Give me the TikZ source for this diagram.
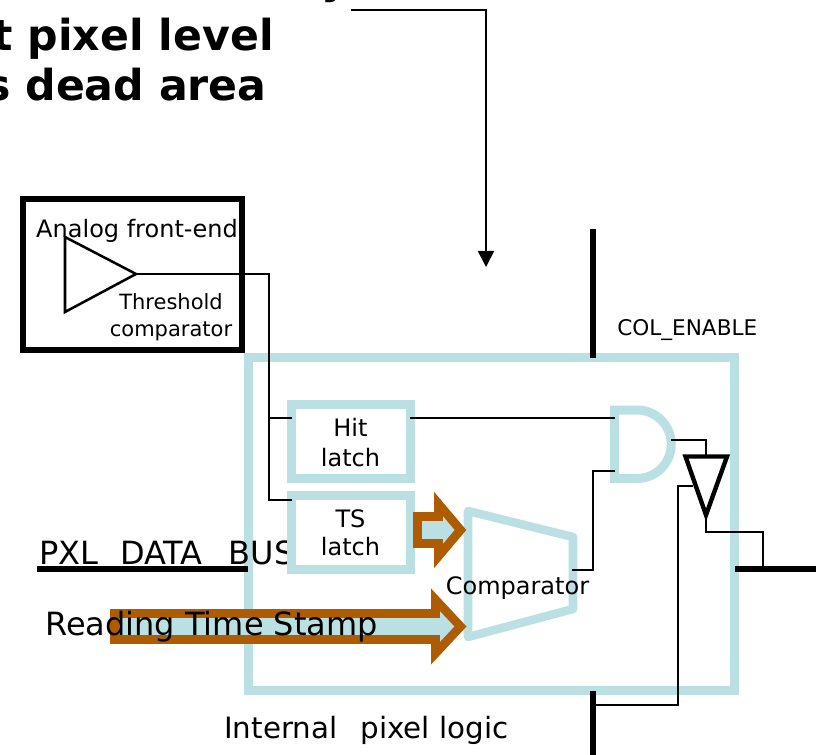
\documentclass[tikz,border=0pt]{standalone}
\usepackage{fontspec}
\setmainfont{DejaVu Sans}
\usetikzlibrary{arrows.meta}
\definecolor{logicblue}{RGB}{186,224,227}
\definecolor{busbrown}{RGB}{175,92,0}
\tikzset{
    wire/.style={line width=1.3pt},
    railbar/.style={line width=3.9pt},
    logicline/.style={draw=logicblue, line width=6.75pt},
    latchbox/.style={draw=logicblue, line width=6.75pt, fill=white, minimum width=89.25pt, minimum height=55.5pt, inner sep=0pt},
    latchtext/.style={inner sep=0pt, align=center},
    busarrow/.style={draw=busbrown, fill=logicblue, line width=6.6pt, miter limit=10},
    titletext/.style={anchor=base east, font=\bfseries\fontsize{32}{32}\selectfont}
}
\begin{document}
\begin{tikzpicture}[x=0.75pt, y=-0.75pt]
    \useasboundingbox (0,0) rectangle (816,755);

    % Title, cut by the page
    \node[anchor=base west, inner sep=0pt, font=\bfseries\fontsize{32}{32}\selectfont] (titletop) at (321,-6) {y};
    \node[titletext, inner sep=0pt] (titleone) at (274,51) {t pixel level};
    \node[titletext, inner sep=0pt] (titletwo) at (267,101) {s dead area};

    % Arrow from the title
    \coordinate (notestart) at (351,10);
    \coordinate (noteend) at (486,267);
    \draw[wire, -{Triangle[width=12pt, length=12pt]}] (notestart) -| (noteend);

    % Internal pixel logic
    \node[logicline, minimum width=364.5pt, minimum height=249.4pt, inner sep=0pt] (pxl) at (491.5,524.25) {};
    \node[anchor=base west, inner sep=0pt, font=\fontsize{22}{26}\selectfont] (pxllabel) at (224,738) {Internal\ \ \kern3.5pt pixel logic};

    % Data bus, its text goes behind the TS latch
    \node[anchor=base west, inner sep=0pt, font=\fontsize{24}{28}\selectfont] (buslabel) at (39,564) {PXL\kern2pt\_\kern2.5pt DATA\kern3.5pt\_\kern4pt BUS};
    \coordinate (busleft) at (37,569);
    \coordinate (busright) at (248,569);
    \draw[line width=4.4pt] (busleft) -- (busright);

    % Analog front-end
    \node[draw, line width=4.5pt, minimum width=163.9pt, minimum height=113.6pt, inner sep=0pt] (afe) at (132.25,274.75) {};
    \node[anchor=base, inner sep=0pt, font=\fontsize{18}{22}\selectfont] (afelabel) at (137,237.5) {Analog front-end};
    \coordinate (amptop) at (65,237);
    \coordinate (ampbot) at (65,312);
    \coordinate (ampout) at (136,274);
    \draw[line width=1.9pt] (amptop) -- (ampout) -- (ampbot) -- cycle;
    \node[inner sep=0pt, align=center, font=\fontsize{15.75}{20}\selectfont] (amplabel) at (171,317) {Threshold\\comparator};

    % Latches
    \node[latchbox] (hit) at (350.5,441) {};
    \node[latchbox] (ts) at (350.5,532) {};
    \node[latchtext, font=\fontsize{18}{22.5}\selectfont] (hitlabel) at (350.5,443) {Hit\\latch};
    \node[latchtext, font=\fontsize{18}{21}\selectfont] (tslabel) at (350.5,533) {TS\\latch};
    \coordinate (hitin) at (292,418);
    \coordinate (hitout) at (410,418);
    \coordinate (tsin) at (292,500);
    \coordinate (ampdown) at (269,418);
    \draw[wire] (ampout) -| (ampdown) -- (hitin);
    \draw[wire] (ampdown) |- (tsin);

    % Comparator
    \coordinate (cmpa) at (468,511);
    \coordinate (cmpb) at (573,537);
    \coordinate (cmpc) at (573,609);
    \coordinate (cmpd) at (468,637);
    \draw[draw=logicblue, line width=6.4pt, line join=round] (cmpa) -- (cmpb) -- (cmpc) -- (cmpd) -- cycle;
    \node[anchor=base, inner sep=0pt, font=\fontsize{18}{22}\selectfont] (cmplabel) at (517.5,594) {Comparator};

    % Time stamp arrows
    \draw[busarrow] (417.5,516.5) -- (438.5,516.5) -- (438.5,503.9) -- (460.5,530) -- (438.5,556.1) -- (438.5,543.5) -- (417.5,543.5) -- cycle;
    \draw[busarrow] (114.5,613.5) -- (435.5,613.5) -- (435.5,599.7) -- (460.5,626.5) -- (435.5,653.3) -- (435.5,639.5) -- (114.5,639.5) -- cycle;
    \node[anchor=base west, inner sep=0pt, font=\fontsize{24}{28}\selectfont] (stamplabel) at (45,635.5) {Reading Time Stamp};

    % AND gate
    \coordinate (anda) at (614.5,410);
    \coordinate (andb) at (614.5,478.5);
    \coordinate (andina) at (615,418);
    \coordinate (andinb) at (615,471);
    \coordinate (andout) at (671,440);
    \draw[logicline] (anda) -- (637,410) arc[start angle=-90, end angle=90, radius=34.25] -- (andb) -- cycle;
    \draw[wire] (hitout) -- (andina);
    \coordinate (cmpout) at (572,570);
    \draw[wire] (cmpout) -| (593,471) -- (andinb);

    % Column enable
    \node[anchor=base west, inner sep=0pt, font=\fontsize{16.2}{20}\selectfont] (collabel) at (617,335) {COL\_ENABLE};
    \coordinate (coltop) at (593,229);
    \coordinate (colmid) at (593,358);
    \coordinate (colbot) at (593,691);
    \coordinate (colend) at (593,755);
    \draw[railbar] (coltop) -- (colmid);
    \draw[railbar] (colbot) -- (colend);

    % Output buffer
    \coordinate (bufa) at (685.5,456.5);
    \coordinate (bufb) at (727,456.5);
    \coordinate (bufc) at (706,515);
    \coordinate (bufen) at (693,486);
    \coordinate (colwire) at (593,705);
    \draw[line width=3.3pt] (bufa) -- (bufb) -- (bufc) -- cycle;
    \draw[wire] (andout) -| (706,456.5);
    \draw[wire] (colwire) -| (678,486) -- (bufen);

    % Output to the data bus
    \coordinate (outleft) at (735,569);
    \coordinate (outright) at (816,569);
    \draw[line width=4.4pt] (outleft) -- (outright);
    \draw[wire] (bufc) |- (763,532) -- (763,569);
\end{tikzpicture}
\end{document}
